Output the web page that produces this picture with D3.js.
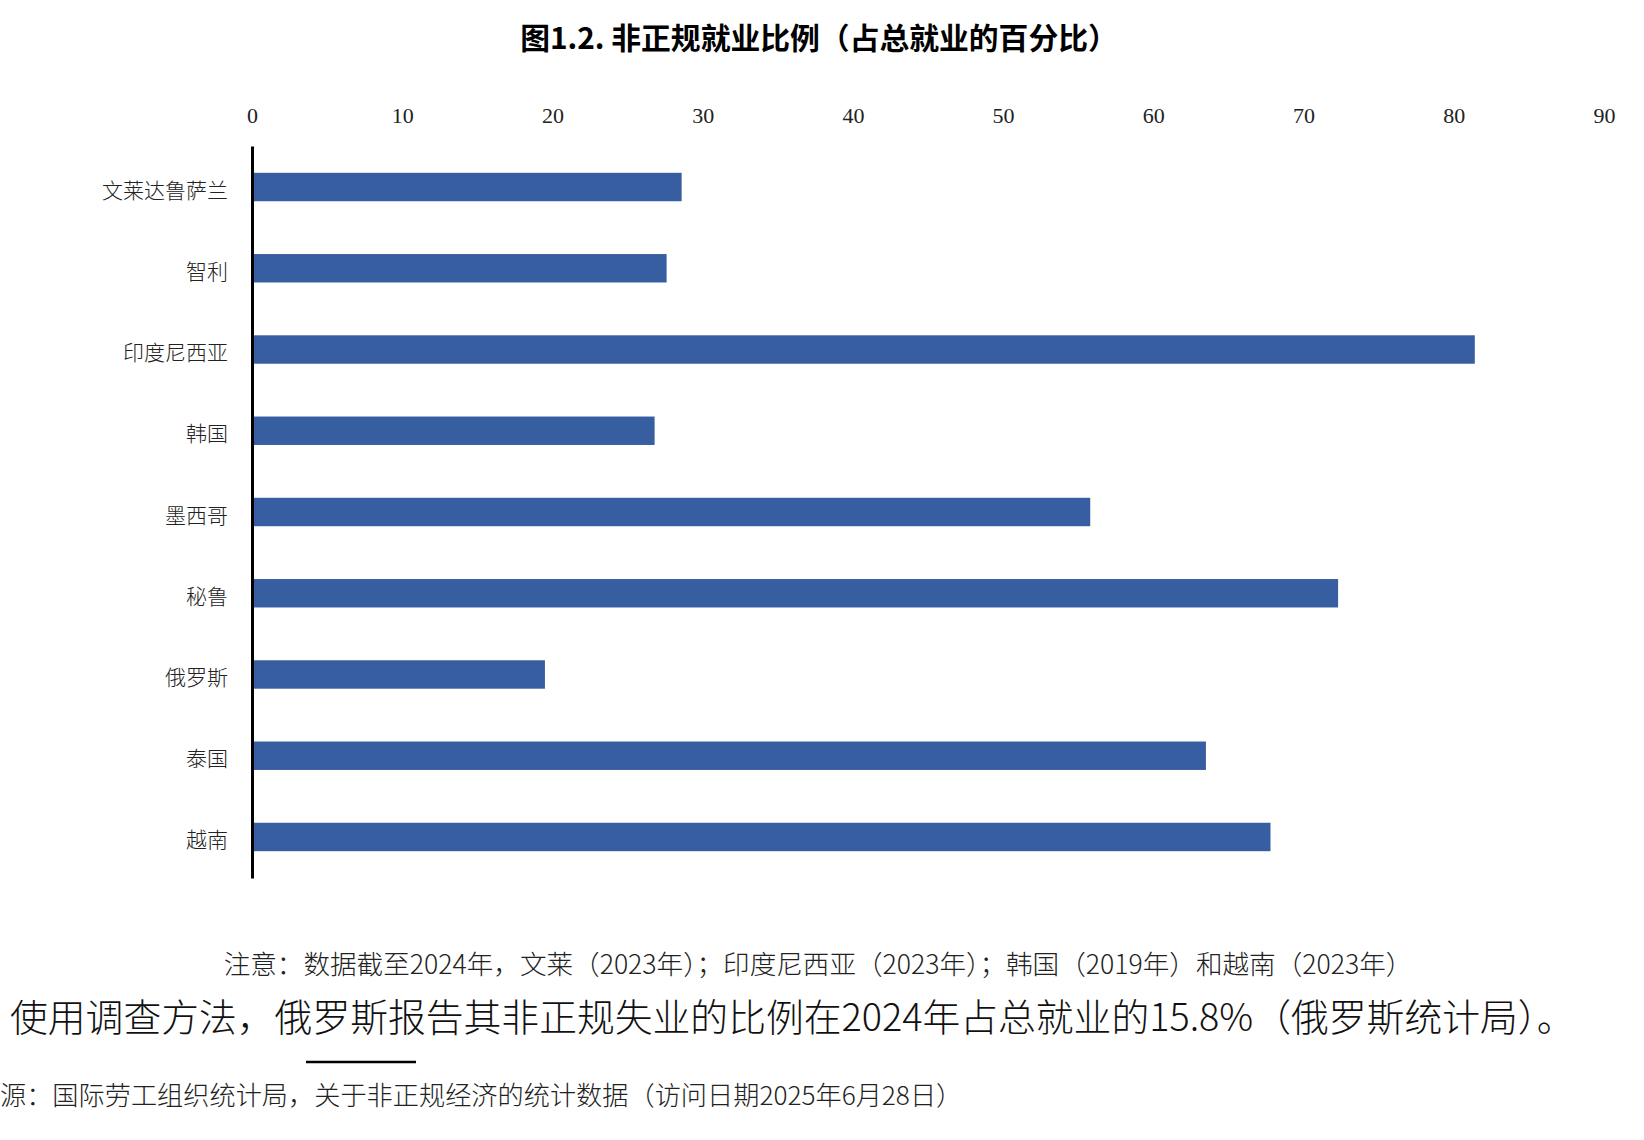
<!DOCTYPE html>
<html>
<head>
<meta charset="utf-8">
<script src="https://cdn.jsdelivr.net/npm/d3@7"></script>
<style>
  body { margin: 0; background: #fff; }
  svg { display: block; }
</style>
</head>
<body>
<div id="chart"></div>
<script>
// Data
const countries = ["文莱达鲁萨兰", "智利", "印度尼西亚", "韩国", "墨西哥", "秘鲁", "俄罗斯", "泰国", "越南"];
const shares = [28.6, 27.6, 81.4, 26.8, 55.8, 72.3, 19.5, 63.5, 67.8];
const xTicks = [0, 10, 20, 30, 40, 50, 60, 70, 80, 90];

const titleText = "图1.2. 非正规就业比例（占总就业的百分比）";
const noteText = "注意：数据截至2024年，文莱（2023年）；印度尼西亚（2023年）；韩国（2019年）和越南（2023年）";
const remarkText = "使用调查方法，俄罗斯报告其非正规失业的比例在2024年占总就业的15.8%（俄罗斯统计局）。";
const sourceText = "源：国际劳工组织统计局，关于非正规经济的统计数据（访问日期2025年6月28日）";

const W = 1644, H = 1140;
const cjk = "'Noto Sans CJK SC', 'Noto Sans', sans-serif";

const svg = d3.select("#chart")
  .append("svg")
    .attr("width", W)
    .attr("height", H);

// Scales
const x = d3.scaleLinear()
  .domain([0, 90])
  .range([252, 1604]);

const y = d3.scaleBand()
  .domain(countries)
  .range([146, 878])
  .paddingInner(0.65)
  .paddingOuter(0.33);

// Title
svg.append("text")
  .attr("x", 819)
  .attr("y", 49)
  .attr("text-anchor", "middle")
  .style("font-family", cjk)
  .style("font-weight", 700)
  .style("font-size", "29.8px")
  .attr("fill", "#000")
  .text(titleText);

// Top axis (labels only)
const xAxis = svg.append("g")
  .attr("transform", "translate(0,123)")
  .call(d3.axisTop(x).tickValues(xTicks).tickSize(0).tickPadding(0));
xAxis.select(".domain").remove();
xAxis.selectAll("text")
  .style("font-family", "'Liberation Serif', serif")
  .style("font-size", "22px")
  .attr("fill", "#222");

// Bars
svg.append("g")
  .selectAll("rect")
  .data(countries)
  .join("rect")
    .attr("x", x(0))
    .attr("y", d => y(d))
    .attr("width", (d, i) => x(shares[i]) - x(0))
    .attr("height", y.bandwidth())
    .attr("fill", "#365ea1");

// Left axis with category labels
const yAxis = svg.append("g")
  .attr("transform", `translate(${x(0)},0)`)
  .call(d3.axisLeft(y).tickSize(0).tickPadding(24));
yAxis.select(".domain")
  .attr("stroke", "#000")
  .attr("stroke-width", 3);
yAxis.selectAll("text")
  .attr("dy", "0.5em")
  .style("font-family", cjk)
  .style("font-weight", 300)
  .style("font-size", "21px")
  .attr("fill", "#222");

// Note
svg.append("text")
  .attr("x", 818)
  .attr("y", 974)
  .attr("text-anchor", "middle")
  .style("font-family", cjk)
  .style("font-weight", 300)
  .style("font-size", "26.6px")
  .attr("fill", "#222")
  .text(noteText);

svg.append("text")
  .attr("x", 10)
  .attr("y", 1031)
  .style("font-family", cjk)
  .style("font-weight", 300)
  .style("font-size", "37.8px")
  .attr("fill", "#111")
  .text(remarkText);

// Short rule above source
svg.append("line")
  .attr("x1", 306).attr("x2", 416)
  .attr("y1", 1062).attr("y2", 1062)
  .attr("stroke", "#000")
  .attr("stroke-width", 2.5);

svg.append("text")
  .attr("x", 0)
  .attr("y", 1105)
  .style("font-family", cjk)
  .style("font-weight", 300)
  .style("font-size", "26.2px")
  .attr("fill", "#222")
  .text(sourceText);
</script>
</body>
</html>
